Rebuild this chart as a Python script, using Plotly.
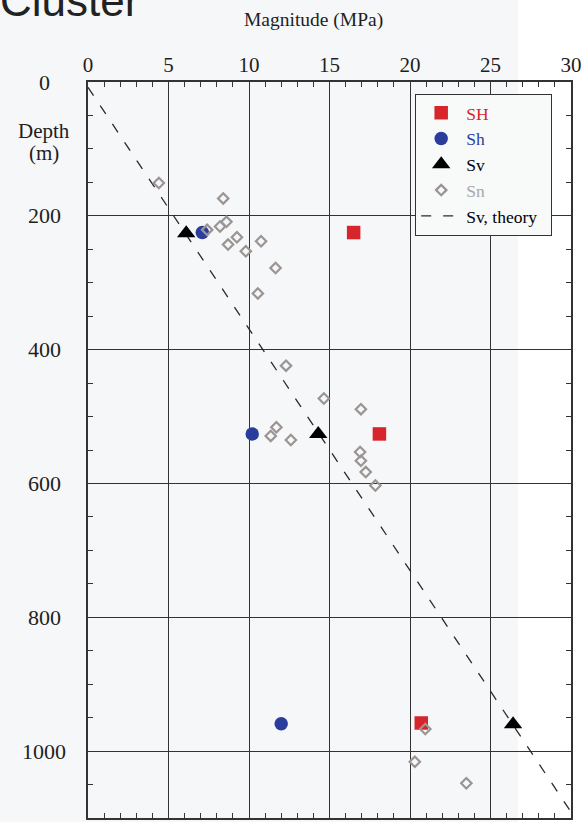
import plotly.graph_objects as go

# Stress magnitudes (MPa) and depths (m)
sh_max_mpa = [16.5, 18.1, 20.7]
sh_max_depth = [225, 526, 958]

sh_min_mpa = [7.1, 10.2, 12.0]
sh_min_depth = [225, 526, 959]

sv_mpa = [6.1, 14.3, 26.4]
sv_depth = [226, 526, 960]

sn_mpa = [4.4, 8.4, 7.4, 8.2, 8.6, 9.25, 8.7, 10.75, 9.8, 11.65, 10.55, 12.3,
          14.65, 16.95, 11.7, 11.35, 12.6, 16.9, 16.95, 17.25, 17.85,
          20.95, 20.3, 23.5]
sn_depth = [151, 174, 221, 216, 209, 232, 243, 238, 253, 278, 316, 424,
            473, 489, 516, 529, 535, 553, 566, 583, 603,
            967, 1016, 1048]

sv_theory_mpa = [0.0, 30.25]
sv_theory_depth = [8, 1100]

x_ticks = [0, 5, 10, 15, 20, 25, 30]
depth_ticks = [0, 200, 400, 600, 800, 1000]

SERIF = "Times New Roman, Liberation Serif, serif"
INK = "#333333"
TEXT = "#1e1e1e"
RED = "#d7262b"
BLUE = "#2a3d9c"
GREY = "#9a9593"

fig = go.Figure()

fig.add_trace(go.Scatter(
    x=sv_theory_mpa, y=sv_theory_depth, mode="lines",
    line=dict(color="#2a2a2a", width=1.3, dash="10px,12px"),
    name="Sv, theory\u00a0\u00a0", legendrank=5))

fig.add_trace(go.Scatter(
    x=sh_max_mpa, y=sh_max_depth, mode="markers",
    marker=dict(symbol="square", size=13.5, color=RED),
    name=f"<span style='color:{RED}'>SH</span>", legendrank=1))

fig.add_trace(go.Scatter(
    x=sh_min_mpa, y=sh_min_depth, mode="markers",
    marker=dict(symbol="circle", size=13.5, color=BLUE),
    name=f"<span style='color:{BLUE}'>Sh</span>", legendrank=2))

fig.add_trace(go.Scatter(
    x=sv_mpa, y=sv_depth, mode="markers",
    marker=dict(symbol="triangle-up", size=16, color="black"),
    name="Sv", legendrank=3))

fig.add_trace(go.Scatter(
    x=sn_mpa, y=sn_depth, mode="markers",
    marker=dict(symbol="diamond-open", size=8, color=GREY,
                line=dict(width=2.2, color=GREY)),
    name="<span style='color:#a8a8a8'>Sn</span>", legendrank=4))

axis_common = dict(
    showline=True, linecolor=INK, linewidth=1.5, mirror="ticks",
    showgrid=True, gridcolor=INK, gridwidth=1.2, zeroline=False,
    ticks="inside", ticklen=6, tickcolor=INK, tickwidth=1.2,
)

fig.update_xaxes(
    **axis_common, side="top", range=[0, 30], tickvals=x_ticks,
    tickfont=dict(family=SERIF, size=21, color=TEXT), ticklabelstandoff=0,
    minor=dict(dtick=1, ticks="inside", ticklen=5, tickcolor=INK,
               tickwidth=1.2, showgrid=False),
)
fig.update_yaxes(
    **axis_common, range=[1100, 0], tickvals=depth_ticks,
    showticklabels=False,
    minor=dict(dtick=50, ticks="inside", ticklen=5, tickcolor=INK,
               tickwidth=1.2, showgrid=False),
)

LEFT_X = -0.091  # centre of the depth labels, left of the frame

annotations = []
for d in depth_ticks:
    annotations.append(dict(
        text=str(d), x=LEFT_X, xref="paper", y=d, yref="y",
        xanchor="center", yanchor="middle", showarrow=False,
        font=dict(family=SERIF, size=22, color=TEXT)))

annotations += [
    dict(text="Magnitude (MPa)", x=0.466, xref="paper", y=1.084, yref="paper",
         xanchor="center", yanchor="middle", showarrow=False,
         font=dict(family=SERIF, size=19.5, color=TEXT)),
    dict(text="Depth", x=LEFT_X, xref="paper", y=0.9336, yref="paper",
         xanchor="center", yanchor="middle", showarrow=False,
         font=dict(family=SERIF, size=21, color=TEXT)),
    dict(text="(m)", x=LEFT_X, xref="paper", y=0.903, yref="paper",
         xanchor="center", yanchor="middle", showarrow=False,
         font=dict(family=SERIF, size=21, color=TEXT)),
    dict(text="Cluster", x=-0.186, xref="paper", y=1.0745, yref="paper",
         xanchor="left", yanchor="bottom", showarrow=False,
         font=dict(family="Liberation Sans, Arial, sans-serif", size=44,
                   color="#222222")),
]

fig.update_layout(
    width=587, height=822,
    margin=dict(l=88, r=16, t=82, b=2),
    paper_bgcolor="#f6f7f8",
    plot_bgcolor="rgba(0,0,0,0)",
    showlegend=True,
    legend=dict(
        x=0.677, y=0.984, xanchor="left", yanchor="top",
        bgcolor="#f8f9f9", bordercolor=INK, borderwidth=1.2,
        font=dict(family=SERIF, size=17.5, color="black"),
        tracegroupgap=0, itemwidth=40,
    ),
    annotations=annotations,
    shapes=[dict(type="rect", xref="paper", yref="paper",
                 x0=0.890, x1=1.2, y0=-0.05, y1=1.2,
                 fillcolor="white", line=dict(width=0), layer="below")],
)

fig.write_html("out.html")
